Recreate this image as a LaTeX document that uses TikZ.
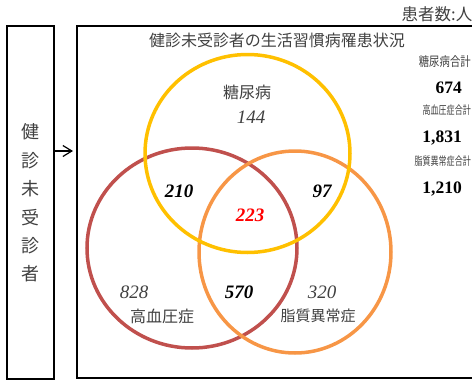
\documentclass[tikz,border=0pt]{standalone}
\usepackage{fontspec}
\setmainfont{Liberation Serif}
\newfontfamily\jp{Noto Sans CJK JP}
\usetikzlibrary{arrows.meta,shapes.geometric}
\definecolor{cyellow}{HTML}{FFC000}
\definecolor{cred}{HTML}{C0504D}
\definecolor{corange}{HTML}{F79646}
\definecolor{tgray}{HTML}{404040}
\tikzset{
  frame/.style={draw=black, line width=2pt, inner sep=0pt, rectangle},
  venn/.style={ellipse, line width=3.5pt, inner sep=0pt},
  jplabel/.style={font=\jp\fontsize{16}{16}\selectfont, text=tgray, inner sep=0pt},
  jpsmall/.style={font=\jp\fontsize{#1}{#1}\selectfont, text=tgray, inner sep=0pt, anchor=east},
  numlight/.style={font=\itshape\fontsize{19}{19}\selectfont, text=tgray, inner sep=0pt},
  numbold/.style={font=\bfseries\itshape\fontsize{19}{19}\selectfont, text=black, inner sep=0pt},
  total/.style={font=\bfseries\fontsize{17.5}{17.5}\selectfont, text=black, inner sep=0pt, anchor=east}
}
\begin{document}
\begin{tikzpicture}[x=1pt,y=-1pt]
\useasboundingbox (0,0) rectangle (472,381);
% frames
\node[frame, minimum width=47pt, minimum height=353pt] (left) at (30.5,202.5) {};
\node[frame, minimum width=397pt, minimum height=352pt] (main) at (275.5,202) {};
\node[font=\jp\fontsize{18}{28.4}\selectfont, align=center, text=tgray, inner sep=0pt] (lefttext) at (30.5,203) {健\\診\\未\\受\\診\\者};
\coordinate (arrstart) at (left.east |- 0,151);
\coordinate (arrend) at (73,151);
\draw[line width=1.2pt, -{Straight Barb[length=9pt,width=11pt,line width=1.2pt]}] (arrstart) -- (arrend);
% titles
\node[font=\jp\fontsize{16}{16}\selectfont, text=tgray, inner sep=0pt] (title) at (277,40) {健診未受診者の生活習慣病罹患状況};
\node[font=\jp\fontsize{16.5}{16.5}\selectfont, text=tgray, inner sep=0pt, anchor=east] (unit) at (472.5,14) {患者数:人};
% circles
\node[venn, draw=cred, minimum width=210pt, minimum height=200pt] (htn) at (192,248) {};
\node[venn, draw=corange, minimum width=192pt, minimum height=202pt] (lip) at (295,252) {};
\node[venn, draw=cyellow, minimum width=205pt, minimum height=198pt] (dm) at (247.5,153.5) {};
% labels
\node[jplabel] (dmlab) at (247,92) {糖尿病};
\node[numlight] (n144) at (251,117) {144};
\node[numbold] (n210) at (179,191) {210};
\node[numbold] (n97) at (322,191) {97};
\node[numbold, text=red] (n223) at (250,215) {223};
\node[numlight] (n828) at (134,292) {828};
\node[numbold] (n570) at (239,292) {570};
\node[numlight] (n320) at (322,292) {320};
\node[jplabel] (htnlab) at (162,316) {高血圧症};
\node[jplabel, font=\jp\fontsize{15}{15}\selectfont] (liplab) at (318,316) {脂質異常症};
% totals
\node[jpsmall=13, xscale=0.8, transform shape] (t1) at (471,62) {糖尿病合計};
\node[total] (v1) at (462,88) {674};
\node[jpsmall=11.5, xscale=0.7, transform shape] (t2) at (471,110) {高血圧症合計};
\node[total] (v2) at (462,138) {1,831};
\node[jpsmall=11.5, xscale=0.7, transform shape] (t3) at (471,161) {脂質異常症合計};
\node[total] (v3) at (462,189) {1,210};
\end{tikzpicture}
\end{document}
